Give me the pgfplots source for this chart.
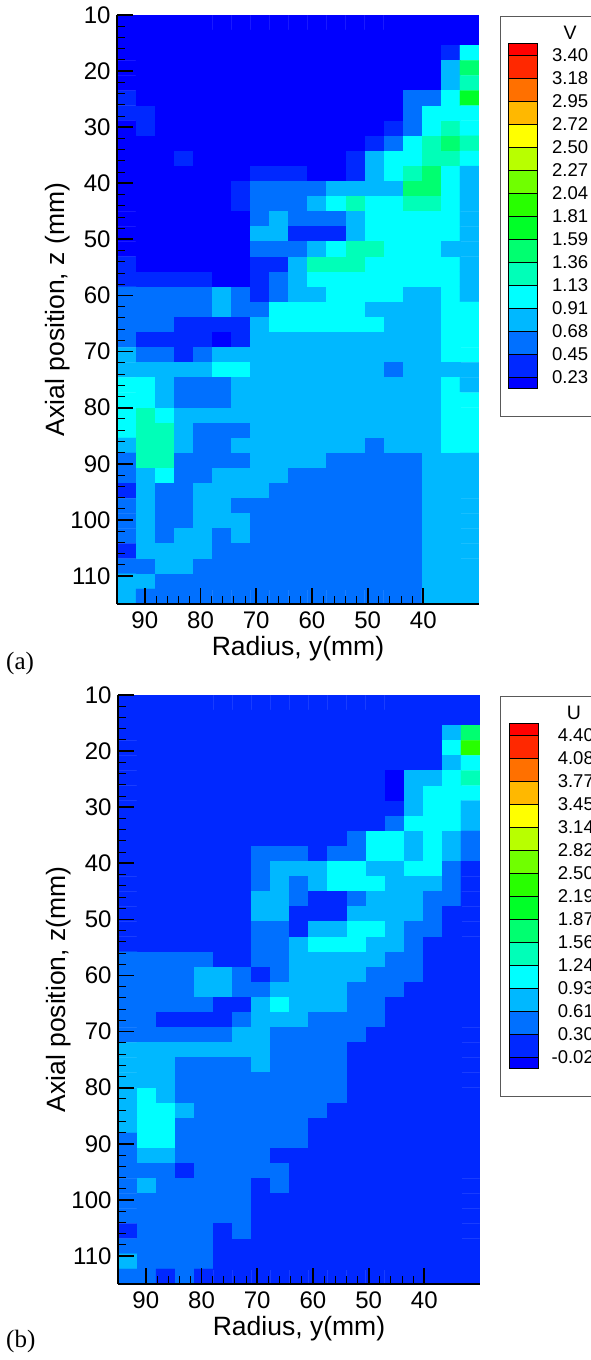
\documentclass[border=0pt]{standalone}
\usepackage{pgfplots}
\pgfplotsset{compat=1.18}
\usepackage{fontspec}
\setmainfont{Liberation Sans}
\newfontfamily\serifcap{Liberation Serif}
\definecolor{b0}{RGB}{0,0,255}
\definecolor{b1}{RGB}{0,40,255}
\definecolor{b2}{RGB}{0,112,255}
\definecolor{b3}{RGB}{0,184,255}
\definecolor{b4}{RGB}{0,255,255}
\definecolor{b5}{RGB}{0,255,184}
\definecolor{b6}{RGB}{0,255,112}
\definecolor{b7}{RGB}{0,255,40}
\definecolor{b8}{RGB}{40,255,0}
\definecolor{b9}{RGB}{112,255,0}
\definecolor{b10}{RGB}{184,255,0}
\definecolor{b11}{RGB}{255,255,0}
\definecolor{b12}{RGB}{255,184,0}
\definecolor{b13}{RGB}{255,112,0}
\definecolor{b14}{RGB}{255,40,0}
\definecolor{b15}{RGB}{255,0,0}
\pgfplotsset{
  contourbox/.style={
    at={(#1)}, anchor=north west, scale only axis, width=362pt, height=589pt,
    x dir=reverse, y dir=reverse, xmin=30, xmax=95, ymin=10, ymax=115,
    axis x line=bottom, axis y line=left, axis line style={line width=2pt,-},
    axis on top,
    xtick={40,50,60,70,80,90}, ytick={10,20,...,110},
    minor x tick num=4, minor y tick num=4,
    tick align=inside, tick style={black},
    major tick length=16pt, minor tick length=8pt,
    every major tick/.append style={line width=1.8pt},
    every minor tick/.append style={line width=0.9pt},
    tick label style={font=\fontsize{24}{24}\selectfont},
    y tick label style={xshift=-3pt},
    x tick label style={yshift=-4pt},
    /pgf/number format/assume math mode=true,
    label style={font=\fontsize{26.5}{27}\selectfont},
    colormap={bands}{rgb255=(0,0,255) rgb255=(0,40,255) rgb255=(0,112,255)
      rgb255=(0,184,255) rgb255=(0,255,255) rgb255=(0,255,184) rgb255=(0,255,112)
      rgb255=(0,255,40) rgb255=(40,255,0)},
    colormap access=direct,
  },
  cellmap/.style={matrix plot, mesh/cols=19, point meta=explicit, line width=0.25pt},
}
\begin{document}
\begin{tikzpicture}[x=1pt,y=1pt]
\useasboundingbox (0,0) rectangle (590,-1360);

% ---------- panel (a)
\begin{axis}[contourbox={117pt,-15pt},
  xlabel={Radius, y(mm)}, ylabel={Axial position, z (mm)},
  xlabel style={at={(axis description cs:0.5,0)},yshift=-29pt,anchor=north},
  ylabel style={at={(axis description cs:0,0.5)},yshift=43pt}]
\addplot[cellmap] table[row sep=\\, x expr={95-3.4211*(mod(\coordindex,19)+0.5)},
  y expr={10+2.6923*(floor((\coordindex+0.5)/19)+0.5)}, meta=l] {
l\\
0\\0\\0\\0\\0\\0\\0\\0\\0\\0\\0\\0\\0\\0\\0\\0\\0\\0\\0\\
0\\0\\0\\0\\0\\0\\0\\0\\0\\0\\0\\0\\0\\0\\0\\0\\0\\0\\0\\
0\\0\\0\\0\\0\\0\\0\\0\\0\\0\\0\\0\\0\\0\\0\\0\\0\\1\\4\\
0\\0\\0\\0\\0\\0\\0\\0\\0\\0\\0\\0\\0\\0\\0\\0\\0\\3\\6\\
0\\0\\0\\0\\0\\0\\0\\0\\0\\0\\0\\0\\0\\0\\0\\0\\0\\3\\5\\
1\\0\\0\\0\\0\\0\\0\\0\\0\\0\\0\\0\\0\\0\\0\\2\\2\\4\\7\\
1\\1\\0\\0\\0\\0\\0\\0\\0\\0\\0\\0\\0\\0\\0\\2\\4\\4\\4\\
0\\1\\0\\0\\0\\0\\0\\0\\0\\0\\0\\0\\0\\0\\1\\2\\4\\5\\4\\
0\\0\\0\\0\\0\\0\\0\\0\\0\\0\\0\\0\\0\\1\\2\\4\\5\\6\\5\\
0\\0\\0\\1\\0\\0\\0\\0\\0\\0\\0\\0\\1\\3\\4\\4\\5\\5\\4\\
0\\0\\0\\0\\0\\0\\0\\1\\1\\1\\0\\0\\1\\3\\4\\5\\6\\4\\3\\
0\\0\\0\\0\\0\\0\\1\\2\\2\\2\\2\\3\\3\\3\\3\\6\\6\\4\\3\\
0\\0\\0\\0\\0\\0\\1\\2\\2\\2\\3\\4\\5\\4\\4\\5\\5\\4\\3\\
0\\0\\0\\0\\0\\0\\0\\2\\3\\2\\2\\2\\3\\4\\4\\4\\4\\4\\3\\
0\\0\\0\\0\\0\\0\\0\\3\\3\\1\\1\\1\\3\\4\\4\\4\\4\\4\\3\\
0\\0\\0\\0\\0\\0\\0\\2\\2\\2\\3\\4\\5\\5\\4\\4\\4\\3\\3\\
1\\0\\0\\0\\0\\0\\0\\1\\1\\3\\5\\5\\5\\4\\4\\4\\4\\4\\3\\
1\\1\\1\\1\\1\\0\\0\\1\\2\\3\\4\\4\\4\\4\\4\\4\\4\\4\\3\\
2\\2\\2\\2\\2\\3\\2\\1\\2\\3\\3\\4\\4\\4\\4\\3\\3\\4\\3\\
2\\2\\2\\2\\2\\3\\2\\2\\4\\4\\4\\4\\4\\3\\3\\3\\3\\4\\4\\
2\\2\\2\\1\\1\\1\\1\\3\\4\\4\\4\\4\\4\\4\\3\\3\\3\\4\\4\\
2\\1\\1\\1\\1\\0\\1\\3\\3\\3\\3\\3\\3\\3\\3\\3\\3\\4\\4\\
3\\2\\2\\1\\2\\3\\3\\3\\3\\3\\3\\3\\3\\3\\3\\3\\3\\4\\4\\
3\\3\\3\\3\\3\\4\\4\\3\\3\\3\\3\\3\\3\\3\\2\\3\\3\\3\\3\\
4\\4\\3\\2\\2\\2\\3\\3\\3\\3\\3\\3\\3\\3\\3\\3\\3\\4\\3\\
4\\4\\3\\2\\2\\2\\3\\3\\3\\3\\3\\3\\3\\3\\3\\3\\3\\4\\4\\
4\\5\\4\\3\\3\\3\\3\\3\\3\\3\\3\\3\\3\\3\\3\\3\\3\\4\\4\\
4\\5\\5\\3\\2\\2\\2\\3\\3\\3\\3\\3\\3\\3\\3\\3\\3\\4\\4\\
3\\5\\5\\3\\2\\2\\3\\3\\3\\3\\3\\3\\3\\2\\3\\3\\3\\4\\4\\
2\\5\\5\\2\\2\\2\\2\\3\\3\\3\\3\\2\\2\\2\\2\\2\\3\\3\\3\\
2\\3\\4\\2\\2\\3\\3\\3\\3\\2\\2\\2\\2\\2\\2\\2\\3\\3\\3\\
1\\3\\2\\2\\3\\3\\3\\3\\2\\2\\2\\2\\2\\2\\2\\2\\3\\3\\3\\
2\\3\\2\\2\\3\\3\\2\\2\\2\\2\\2\\2\\2\\2\\2\\2\\3\\3\\3\\
2\\3\\2\\2\\3\\3\\3\\2\\2\\2\\2\\2\\2\\2\\2\\2\\3\\3\\3\\
2\\3\\2\\3\\3\\2\\3\\2\\2\\2\\2\\2\\2\\2\\2\\2\\3\\3\\3\\
1\\3\\3\\3\\3\\2\\2\\2\\2\\2\\2\\2\\2\\2\\2\\2\\3\\3\\3\\
2\\2\\3\\3\\2\\2\\2\\2\\2\\2\\2\\2\\2\\2\\2\\2\\3\\3\\3\\
3\\3\\2\\2\\2\\2\\2\\2\\2\\2\\2\\2\\2\\2\\2\\2\\3\\3\\3\\
3\\2\\2\\2\\2\\2\\2\\2\\2\\2\\2\\2\\2\\2\\2\\2\\3\\3\\3\\
};
\end{axis}

% ---------- panel (b)
\begin{axis}[contourbox={118pt,-695pt},
  xlabel={Radius, y(mm)}, ylabel={Axial position, z(mm)},
  xlabel style={at={(axis description cs:0.5,0)},yshift=-29pt,anchor=north},
  ylabel style={at={(axis description cs:0,0.5)},yshift=43pt}]
\addplot[cellmap] table[row sep=\\, x expr={95-3.4211*(mod(\coordindex,19)+0.5)},
  y expr={10+2.6923*(floor((\coordindex+0.5)/19)+0.5)}, meta=l] {
l\\
1\\1\\1\\1\\1\\1\\1\\1\\1\\1\\1\\1\\1\\1\\1\\1\\1\\1\\1\\
1\\1\\1\\1\\1\\1\\1\\1\\1\\1\\1\\1\\1\\1\\1\\1\\1\\1\\1\\
1\\1\\1\\1\\1\\1\\1\\1\\1\\1\\1\\1\\1\\1\\1\\1\\1\\3\\6\\
1\\1\\1\\1\\1\\1\\1\\1\\1\\1\\1\\1\\1\\1\\1\\1\\1\\4\\8\\
1\\1\\1\\1\\1\\1\\1\\1\\1\\1\\1\\1\\1\\1\\1\\1\\1\\3\\4\\
1\\1\\1\\1\\1\\1\\1\\1\\1\\1\\1\\1\\1\\1\\0\\3\\3\\4\\5\\
1\\1\\1\\1\\1\\1\\1\\1\\1\\1\\1\\1\\1\\1\\0\\3\\4\\4\\4\\
1\\1\\1\\1\\1\\1\\1\\1\\1\\1\\1\\1\\1\\1\\1\\3\\4\\4\\3\\
1\\1\\1\\1\\1\\1\\1\\1\\1\\1\\1\\1\\1\\1\\2\\4\\4\\4\\3\\
1\\1\\1\\1\\1\\1\\1\\1\\1\\1\\1\\1\\2\\4\\4\\3\\4\\3\\2\\
1\\1\\1\\1\\1\\1\\1\\2\\2\\2\\1\\2\\2\\4\\4\\3\\4\\3\\2\\
1\\1\\1\\1\\1\\1\\1\\2\\3\\3\\3\\4\\4\\3\\3\\4\\4\\2\\1\\
1\\1\\1\\1\\1\\1\\1\\2\\3\\2\\3\\4\\4\\4\\3\\3\\3\\2\\1\\
1\\1\\1\\1\\1\\1\\1\\3\\3\\2\\1\\1\\2\\3\\3\\3\\2\\2\\1\\
1\\1\\1\\1\\1\\1\\1\\3\\3\\1\\1\\1\\3\\3\\3\\3\\2\\1\\1\\
1\\1\\1\\1\\1\\1\\1\\2\\2\\1\\3\\3\\4\\4\\3\\2\\2\\1\\1\\
1\\1\\1\\1\\1\\1\\1\\2\\2\\3\\4\\4\\4\\3\\3\\2\\1\\1\\1\\
2\\2\\2\\2\\2\\1\\1\\2\\2\\3\\3\\3\\3\\3\\2\\2\\1\\1\\1\\
2\\2\\2\\2\\3\\3\\2\\1\\2\\3\\3\\3\\3\\2\\2\\2\\1\\1\\1\\
2\\2\\2\\2\\3\\3\\2\\2\\3\\3\\3\\3\\2\\2\\2\\1\\1\\1\\1\\
2\\2\\2\\2\\2\\1\\1\\3\\4\\3\\3\\3\\2\\2\\1\\1\\1\\1\\1\\
2\\2\\1\\1\\1\\1\\2\\3\\3\\3\\2\\2\\2\\2\\1\\1\\1\\1\\1\\
2\\2\\2\\2\\2\\2\\3\\3\\2\\2\\2\\2\\2\\1\\1\\1\\1\\1\\1\\
3\\3\\3\\3\\3\\3\\3\\3\\2\\2\\2\\2\\1\\1\\1\\1\\1\\1\\1\\
3\\3\\3\\2\\2\\2\\2\\3\\2\\2\\2\\2\\1\\1\\1\\1\\1\\1\\1\\
3\\3\\3\\2\\2\\2\\2\\2\\2\\2\\2\\2\\1\\1\\1\\1\\1\\1\\1\\
3\\4\\3\\2\\2\\2\\2\\2\\2\\2\\2\\2\\1\\1\\1\\1\\1\\1\\1\\
3\\4\\4\\3\\2\\2\\2\\2\\2\\2\\2\\1\\1\\1\\1\\1\\1\\1\\1\\
3\\4\\4\\2\\2\\2\\2\\2\\2\\2\\1\\1\\1\\1\\1\\1\\1\\1\\1\\
2\\4\\4\\2\\2\\2\\2\\2\\2\\2\\1\\1\\1\\1\\1\\1\\1\\1\\1\\
2\\3\\3\\2\\2\\2\\2\\2\\1\\1\\1\\1\\1\\1\\1\\1\\1\\1\\1\\
2\\2\\2\\1\\2\\2\\2\\2\\2\\1\\1\\1\\1\\1\\1\\1\\1\\1\\1\\
2\\3\\2\\2\\2\\2\\2\\1\\2\\1\\1\\1\\1\\1\\1\\1\\1\\1\\1\\
2\\2\\2\\2\\2\\2\\2\\1\\1\\1\\1\\1\\1\\1\\1\\1\\1\\1\\1\\
2\\2\\2\\2\\2\\2\\2\\1\\1\\1\\1\\1\\1\\1\\1\\1\\1\\1\\1\\
1\\2\\2\\2\\2\\1\\2\\1\\1\\1\\1\\1\\1\\1\\1\\1\\1\\1\\1\\
2\\2\\2\\2\\2\\1\\1\\1\\1\\1\\1\\1\\1\\1\\1\\1\\1\\1\\1\\
3\\2\\2\\2\\2\\1\\1\\1\\1\\1\\1\\1\\1\\1\\1\\1\\1\\1\\1\\
2\\2\\1\\2\\1\\1\\1\\1\\1\\1\\1\\1\\1\\1\\1\\1\\1\\1\\1\\
};
\end{axis}

% ---------- level legends
\foreach \yo/\barl/\titlex/\title/\labx/\laban/\labs in
  {0/508/570/V/552/west/{3.40,3.18,2.95,2.72,2.50,2.27,2.04,1.81,1.59,1.36,1.13,0.91,0.68,0.45,0.23},
   680/509/574/U/594/east/{4.40,4.08,3.77,3.45,3.14,2.82,2.50,2.19,1.87,1.56,1.24,0.93,0.61,0.30,-0.02}}{
  \draw[black!65, line width=1pt] (620,-16-\yo) -- (500,-16-\yo) -- (500,-416-\yo) -- (620,-416-\yo);
  \node[font=\fontsize{19.5}{20}\selectfont] at (\titlex,-33-\yo) {\title};
  \fill[b15] (\barl,-43.3-\yo) rectangle ++(29,-12);
  \fill[b0] (\barl,-377.3-\yo) rectangle ++(29,-11.4);
  \foreach \i [evaluate=\i as \c using int(14-\i)] in {0,...,13}{
    \fill[b\c] (\barl,-55.3-23*\i-\yo) rectangle ++(29,-23);
  }
  \foreach \lab [count=\n from 0] in \labs {
    \draw[black, line width=0.7pt] (\barl,-55.3-23*\n-\yo) -- ++(29,0);
    \node[anchor=\laban, font=\fontsize{18.5}{19}\selectfont, inner sep=0pt] at (\labx,-55.3-23*\n-\yo) {\lab};
  }
  \draw[black, line width=0.8pt] (\barl,-43.3-\yo) rectangle (\barl+29,-388.7-\yo);
}

\node[anchor=base west, font=\serifcap\fontsize{25}{25}\selectfont, inner sep=0pt] at (6,-669) {(a)};
\node[anchor=base west, font=\serifcap\fontsize{25}{25}\selectfont, inner sep=0pt] at (6,-1347) {(b)};
\end{tikzpicture}
\end{document}
